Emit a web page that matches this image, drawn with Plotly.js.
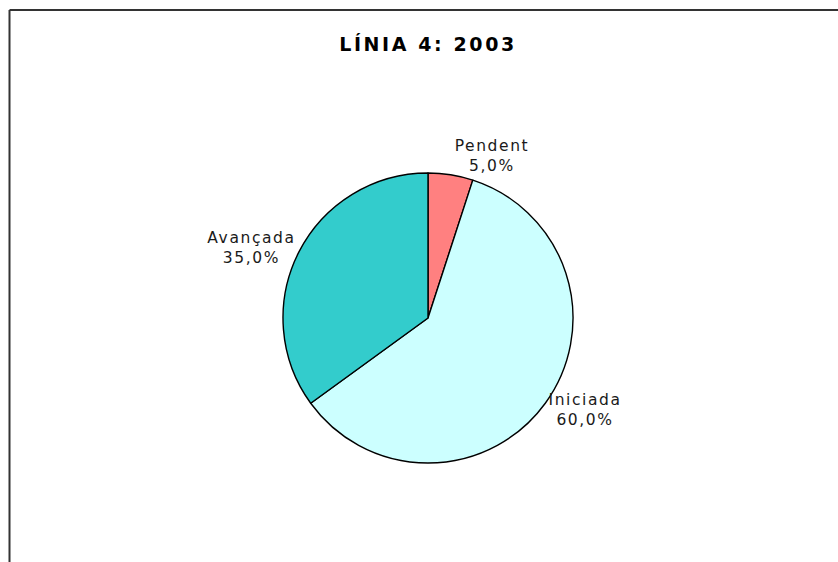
<!DOCTYPE html>
<html>
<head>
<meta charset="utf-8">
<script src="https://cdn.plot.ly/plotly-3.0.1.min.js"></script>
<style>
html, body { margin: 0; padding: 0; background: #fff; }
#chart { width: 838px; height: 562px; }
.pielayer text { letter-spacing: 1.6px; }
.gtitle { letter-spacing: 2.6px; }
</style>
</head>
<body>
<div id="chart"></div>
<script>
var categories = ['Pendent', 'Iniciada', 'Avançada'];
var values = [5, 60, 35];
var colors = ['#FF8080', '#CCFFFF', '#33CCCC'];
var chartTitle = 'LÍNIA 4: 2003';

var trace = {
  type: 'pie',
  labels: categories,
  values: values,
  sort: false,
  direction: 'clockwise',
  rotation: 0,
  marker: { colors: colors, line: { color: '#000000', width: 1.4 } },
  textposition: 'outside',
  texttemplate: '%{label}<br>%{percent:.1%}',
  textfont: { family: 'DejaVu Sans', size: 15.5, color: '#1a1a1a' },
  hoverinfo: 'none',
  automargin: false,
  domain: { x: [283/838, 573/838], y: [1 - 463/562, 1 - 173/562] }
};

var layout = {
  width: 838,
  height: 562,
  margin: { l: 0, r: 0, t: 0, b: 0 },
  paper_bgcolor: '#ffffff',
  separators: ',.',
  showlegend: false,
  title: {
    text: '<b>' + chartTitle + '</b>',
    font: { family: 'DejaVu Sans', size: 19, color: '#000000' },
    x: 428/838, xanchor: 'center',
    y: 1 - 44/562, yanchor: 'middle'
  },
  shapes: [
    { type: 'line', xref: 'paper', yref: 'paper', x0: 9.5/838, x1: 1.01, y0: 1 - 10/562, y1: 1 - 10/562, line: { color: '#333333', width: 2 } },
    { type: 'line', xref: 'paper', yref: 'paper', x0: 9.5/838, x1: 9.5/838, y0: 1 - 10/562, y1: -0.01, line: { color: '#333333', width: 2 } }
  ]
};

Plotly.newPlot('chart', [trace], layout, { displayModeBar: false, staticPlot: true });
</script>
</body>
</html>
